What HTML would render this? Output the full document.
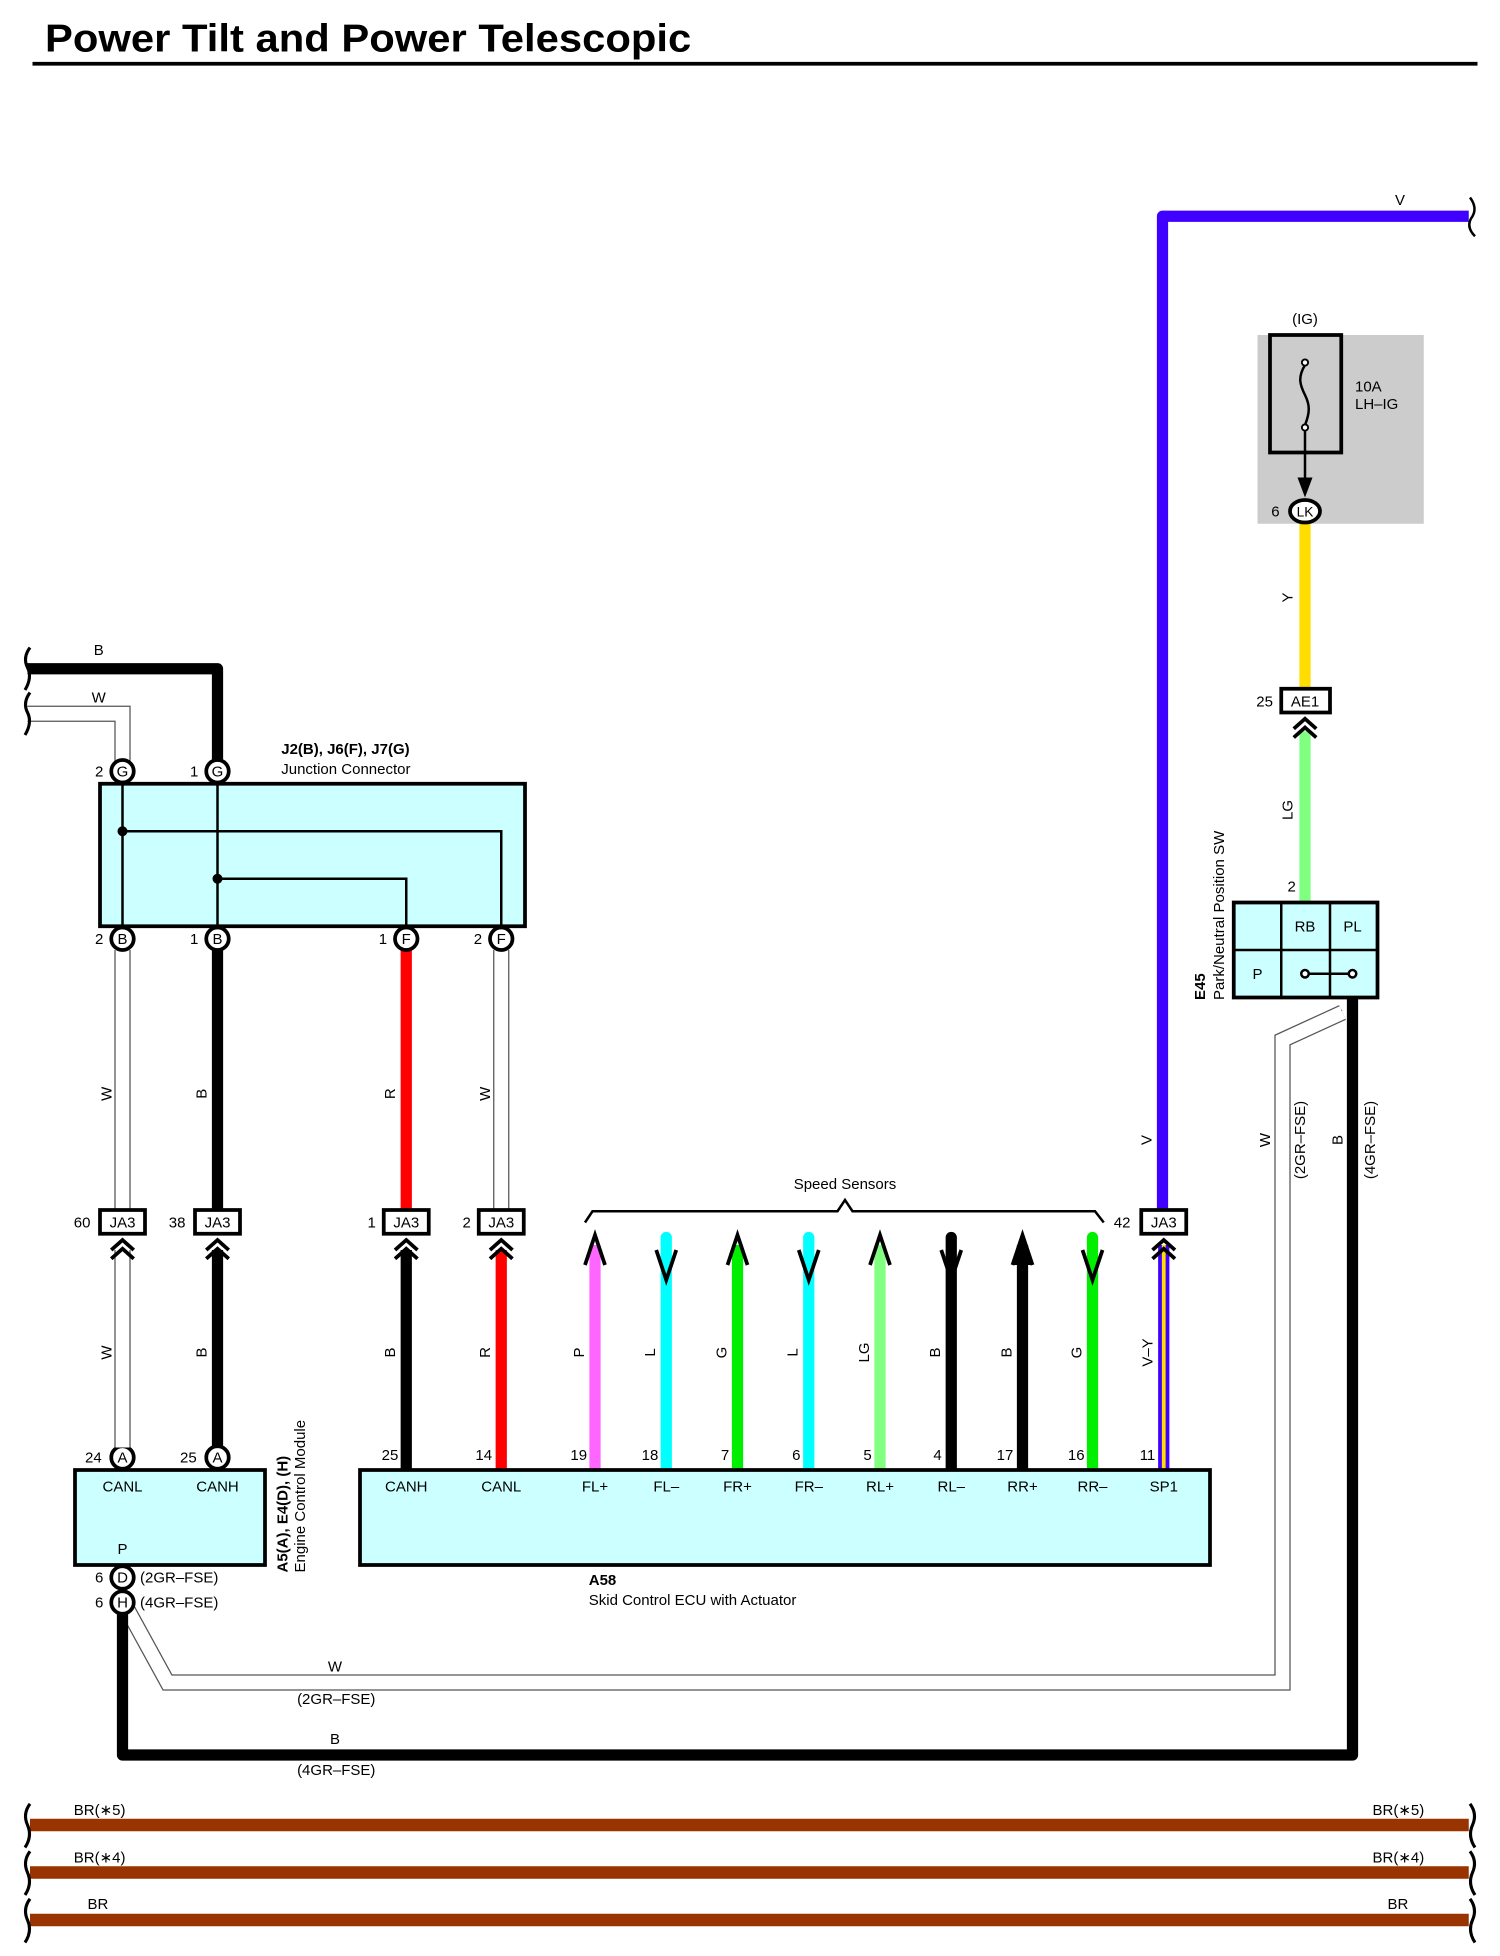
<!DOCTYPE html>
<html><head><meta charset="utf-8"><style>
html,body{margin:0;padding:0;background:#fff}
svg{display:block}
text{font-family:"Liberation Sans",sans-serif;font-size:12px;fill:#000}
.b{font-weight:bold}
.m{text-anchor:middle}
</style></head><body>
<svg width="1500" height="1956" viewBox="0 0 1200 1564.8" xmlns="http://www.w3.org/2000/svg">
<text x="36" y="41" class="b" style="font-size:31px" textLength="517" lengthAdjust="spacingAndGlyphs">Power Tilt and Power Telescopic</text>
<line x1="26" y1="51" x2="1182" y2="51" stroke="#000" stroke-width="3"/>

<!-- violet wire -->
<path d="M930,970 V173 H1175" fill="none" stroke="#3f00ff" stroke-width="9" stroke-linejoin="round"/>
<text x="1120" y="164" class="m">V</text>
<path d="M1176,158 q6,8 2,15 q-6,8 2,16" fill="none" stroke="#000" stroke-width="2"/>
<text transform="translate(921,912) rotate(-90)" class="m">V</text>

<!-- fuse -->
<rect x="1006" y="268" width="133" height="151" fill="#cccccc"/>
<text x="1044" y="259" class="m">(IG)</text>
<rect x="1016" y="268" width="57" height="94" fill="none" stroke="#000" stroke-width="3"/>
<path d="M1044,292 c-6,10 -4,16 0,24 c4,8 4,14 0,24" fill="none" stroke="#000" stroke-width="2"/>
<circle cx="1044" cy="290" r="2.5" fill="#fff" stroke="#000" stroke-width="1.5"/>
<circle cx="1044" cy="342" r="2.5" fill="#fff" stroke="#000" stroke-width="1.5"/>
<line x1="1044" y1="345" x2="1044" y2="392" stroke="#000" stroke-width="2"/>
<polygon points="1038,382 1050,382 1044,398" fill="#000"/>
<text x="1084" y="313">10A</text>
<text x="1084" y="327">LH–IG</text>
<line x1="1044" y1="418" x2="1044" y2="551" stroke="#ffdd00" stroke-width="9"/>
<ellipse cx="1044" cy="409" rx="12" ry="9" fill="#fff" stroke="#000" stroke-width="3"/>
<text x="1044" y="413" class="m" style="font-size:11px">LK</text>
<text x="1017" y="413">6</text>
<text transform="translate(1034,478) rotate(-90)" class="m">Y</text>

<!-- AE1 -->
<line x1="1044" y1="585" x2="1044" y2="722" stroke="#80ff80" stroke-width="9"/>
<rect x="1025" y="551" width="39" height="19" fill="#fff" stroke="#000" stroke-width="3"/>
<text x="1044" y="565" class="m">AE1</text>
<text x="1005" y="565">25</text>
<polyline points="1035,583 1044,575 1053,583" fill="none" stroke="#000" stroke-width="3"/>
<polyline points="1035,590 1044,582 1053,590" fill="none" stroke="#000" stroke-width="3"/>
<text transform="translate(1034,648) rotate(-90)" class="m">LG</text>
<text x="1030" y="713">2</text>

<!-- E45 -->
<rect x="987" y="722" width="115" height="76" fill="#ccffff" stroke="#000" stroke-width="3"/>
<line x1="1025" y1="722" x2="1025" y2="798" stroke="#000" stroke-width="2"/>
<line x1="1064" y1="722" x2="1064" y2="798" stroke="#000" stroke-width="2"/>
<line x1="987" y1="760" x2="1102" y2="760" stroke="#000" stroke-width="2"/>
<text x="1044" y="745" class="m">RB</text>
<text x="1082" y="745" class="m">PL</text>
<text x="1006" y="783" class="m">P</text>
<line x1="1044" y1="779" x2="1082" y2="779" stroke="#000" stroke-width="2"/>
<circle cx="1044" cy="779" r="3" fill="#fff" stroke="#000" stroke-width="2"/>
<circle cx="1082" cy="779" r="3" fill="#fff" stroke="#000" stroke-width="2"/>
<text transform="translate(964,800) rotate(-90)" class="b">E45</text>
<text transform="translate(979,800) rotate(-90)">Park/Neutral Position SW</text>
<text x="1068" y="815">6</text>

<!-- W wire (2GR) -->
<path d="M1074,810 L1026,832 V1346 H134 L100,1284" fill="none" stroke="#555" stroke-width="13" stroke-linejoin="miter"/>
<path d="M1074,810 L1026,832 V1346 H134 L100,1284" fill="none" stroke="#fff" stroke-width="11" stroke-linejoin="miter"/>
<!-- B wire (4GR) -->
<path d="M1082,798 V1404 H98 V1290" fill="none" stroke="#000" stroke-width="9" stroke-linejoin="round"/>
<text x="268" y="1337" class="m">W</text>
<text x="269" y="1363" class="m">(2GR–FSE)</text>
<text x="268" y="1395" class="m">B</text>
<text x="269" y="1420" class="m">(4GR–FSE)</text>
<text transform="translate(1016,912) rotate(-90)" class="m">W</text>
<text transform="translate(1044,912) rotate(-90)" class="m">(2GR–FSE)</text>
<text transform="translate(1074,912) rotate(-90)" class="m">B</text>
<text transform="translate(1100,912) rotate(-90)" class="m">(4GR–FSE)</text>

<!-- top-left wires -->
<path d="M22,535 H174 V610" fill="none" stroke="#000" stroke-width="9" stroke-linejoin="round"/>
<path d="M22,571 H98 V610" fill="none" stroke="#555" stroke-width="13"/>
<path d="M22,571 H98 V610" fill="none" stroke="#fff" stroke-width="11"/>
<text x="79" y="524" class="m">B</text>
<text x="79" y="562" class="m">W</text>
<path d="M24,518 q-6,8 -2,16 q4,8 -2,18" fill="none" stroke="#000" stroke-width="2.5"/>
<path d="M24,554 q-6,8 -2,16 q4,8 -2,18" fill="none" stroke="#000" stroke-width="2.5"/>

<!-- Junction connector -->
<rect x="80" y="627" width="340" height="114" fill="#ccffff" stroke="#000" stroke-width="3"/>
<line x1="98" y1="627" x2="98" y2="741" stroke="#000" stroke-width="2"/>
<line x1="174" y1="627" x2="174" y2="741" stroke="#000" stroke-width="2"/>
<polyline points="98,665 401,665 401,741" fill="none" stroke="#000" stroke-width="2"/>
<polyline points="174,703 325,703 325,741" fill="none" stroke="#000" stroke-width="2"/>
<circle cx="98" cy="665" r="4" fill="#000"/>
<circle cx="174" cy="703" r="4" fill="#000"/>
<text x="225" y="603" class="b">J2(B), J6(F), J7(G)</text>
<text x="225" y="619">Junction Connector</text>

<!-- middle verticals -->
<line x1="98" y1="760" x2="98" y2="968" stroke="#555" stroke-width="13"/>
<line x1="98" y1="760" x2="98" y2="968" stroke="#fff" stroke-width="11"/>
<line x1="174" y1="760" x2="174" y2="968" stroke="#000" stroke-width="9"/>
<line x1="325" y1="760" x2="325" y2="968" stroke="#ff0000" stroke-width="9"/>
<line x1="401" y1="760" x2="401" y2="968" stroke="#555" stroke-width="13"/>
<line x1="401" y1="760" x2="401" y2="968" stroke="#fff" stroke-width="11"/>
<text transform="translate(89,875) rotate(-90)" class="m">W</text>
<text transform="translate(165,875) rotate(-90)" class="m">B</text>
<text transform="translate(316,875) rotate(-90)" class="m">R</text>
<text transform="translate(392,875) rotate(-90)" class="m">W</text>

<!-- circle connectors -->
<g stroke="#000" stroke-width="3" fill="#fff">
<circle cx="98" cy="617" r="9"/><circle cx="174" cy="617" r="9"/>
<circle cx="98" cy="751" r="9"/><circle cx="174" cy="751" r="9"/>
<circle cx="325" cy="751" r="9"/><circle cx="401" cy="751" r="9"/>
<circle cx="98" cy="1166" r="9"/><circle cx="174" cy="1166" r="9"/>
<circle cx="98" cy="1262" r="9"/><circle cx="98" cy="1282" r="9"/>
</g>
<g style="font-size:11px" class="m">
<text x="98" y="621" class="m">G</text><text x="174" y="621" class="m">G</text>
<text x="98" y="755" class="m">B</text><text x="174" y="755" class="m">B</text>
<text x="325" y="755" class="m">F</text><text x="401" y="755" class="m">F</text>
<text x="98" y="1170" class="m">A</text><text x="174" y="1170" class="m">A</text>
<text x="98" y="1266" class="m">D</text><text x="98" y="1286" class="m">H</text>
</g>
<text x="76" y="621">2</text><text x="152" y="621">1</text>
<text x="76" y="755">2</text><text x="152" y="755">1</text>
<text x="303" y="755">1</text><text x="379" y="755">2</text>
<text x="68" y="1170">24</text><text x="144" y="1170">25</text>
<text x="76" y="1266">6</text><text x="76" y="1286">6</text>
<text x="112" y="1266">(2GR–FSE)</text>
<text x="112" y="1286">(4GR–FSE)</text>

<!-- lower wires -->
<line x1="98" y1="1000" x2="98" y2="1158" stroke="#555" stroke-width="13"/>
<line x1="98" y1="1000" x2="98" y2="1158" stroke="#fff" stroke-width="11"/>
<line x1="174" y1="1000" x2="174" y2="1158" stroke="#000" stroke-width="9"/>
<line x1="325" y1="1000" x2="325" y2="1176" stroke="#000" stroke-width="9"/>
<line x1="401" y1="1000" x2="401" y2="1176" stroke="#ff0000" stroke-width="9"/>
<line x1="476" y1="996" x2="476" y2="1176" stroke="#ff66ff" stroke-width="9"/>
<line x1="533" y1="990" x2="533" y2="1176" stroke="#00ffff" stroke-width="9" stroke-linecap="round"/>
<line x1="590" y1="996" x2="590" y2="1176" stroke="#00ee00" stroke-width="9"/>
<line x1="647" y1="990" x2="647" y2="1176" stroke="#00ffff" stroke-width="9" stroke-linecap="round"/>
<line x1="704" y1="996" x2="704" y2="1176" stroke="#80ff80" stroke-width="9"/>
<line x1="761" y1="990" x2="761" y2="1176" stroke="#000" stroke-width="9" stroke-linecap="round"/>
<line x1="818" y1="996" x2="818" y2="1176" stroke="#000" stroke-width="9"/>
<line x1="874" y1="990" x2="874" y2="1176" stroke="#00ee00" stroke-width="9" stroke-linecap="round"/>
<line x1="931" y1="996" x2="931" y2="1176" stroke="#3f00ff" stroke-width="9"/>
<line x1="931" y1="996" x2="931" y2="1176" stroke="#ffdd00" stroke-width="3"/>
<g fill="none" stroke="#000" stroke-width="3">
<polyline points="468,1012 476,988 484,1012"/>
<polyline points="525,1000 533,1024 541,1000"/>
<polyline points="582,1012 590,988 598,1012"/>
<polyline points="639,1000 647,1024 655,1000"/>
<polyline points="696,1012 704,988 712,1012"/>
<polyline points="753,1000 761,1024 769,1000"/>
<polyline points="866,1000 874,1024 882,1000"/>
</g>
<polygon points="810,1012 818,988 826,1012" fill="#000"/>
<polyline points="810,1012 818,988 826,1012" fill="none" stroke="#000" stroke-width="3"/>
<text transform="translate(89,1082) rotate(-90)" class="m">W</text>
<text transform="translate(165,1082) rotate(-90)" class="m">B</text>
<text transform="translate(316,1082) rotate(-90)" class="m">B</text>
<text transform="translate(392,1082) rotate(-90)" class="m">R</text>
<text transform="translate(467,1082) rotate(-90)" class="m">P</text>
<text transform="translate(524,1082) rotate(-90)" class="m">L</text>
<text transform="translate(581,1082) rotate(-90)" class="m">G</text>
<text transform="translate(638,1082) rotate(-90)" class="m">L</text>
<text transform="translate(695,1082) rotate(-90)" class="m">LG</text>
<text transform="translate(752,1082) rotate(-90)" class="m">B</text>
<text transform="translate(809,1082) rotate(-90)" class="m">B</text>
<text transform="translate(865,1082) rotate(-90)" class="m">G</text>
<text transform="translate(922,1082) rotate(-90)" class="m">V–Y</text>

<!-- JA3 connectors -->
<g fill="#fff" stroke="#000" stroke-width="3">
<rect x="80" y="968" width="36" height="19"/>
<rect x="156" y="968" width="36" height="19"/>
<rect x="307" y="968" width="36" height="19"/>
<rect x="383" y="968" width="36" height="19"/>
<rect x="913" y="968" width="36" height="19"/>
</g>
<text x="98" y="982" class="m">JA3</text>
<text x="174" y="982" class="m">JA3</text>
<text x="325" y="982" class="m">JA3</text>
<text x="401" y="982" class="m">JA3</text>
<text x="931" y="982" class="m">JA3</text>
<text x="59" y="982">60</text>
<text x="135" y="982">38</text>
<text x="294" y="982">1</text>
<text x="370" y="982">2</text>
<text x="891" y="982">42</text>
<g fill="none" stroke="#000" stroke-width="3">
<polyline points="89,1000 98,992 107,1000"/><polyline points="89,1007 98,999 107,1007"/>
<polyline points="165,1000 174,992 183,1000"/><polyline points="165,1007 174,999 183,1007"/>
<polyline points="316,1000 325,992 334,1000"/><polyline points="316,1007 325,999 334,1007"/>
<polyline points="392,1000 401,992 410,1000"/><polyline points="392,1007 401,999 410,1007"/>
<polyline points="922,1000 931,992 940,1000"/><polyline points="922,1007 931,999 940,1007"/>
</g>

<!-- speed sensors bracket -->
<polyline points="468,978 474,969 670,969 676,960 682,969 876,969 883,978" fill="none" stroke="#000" stroke-width="2"/>
<text x="676" y="951" class="m">Speed Sensors</text>

<!-- ECM -->
<rect x="60" y="1176" width="152" height="76" fill="#ccffff" stroke="#000" stroke-width="3"/>
<text x="98" y="1193" class="m">CANL</text>
<text x="174" y="1193" class="m">CANH</text>
<text x="98" y="1243" class="m">P</text>
<text transform="translate(230,1258) rotate(-90)" class="b">A5(A), E4(D), (H)</text>
<text transform="translate(244,1258) rotate(-90)">Engine Control Module</text>

<!-- A58 -->
<rect x="288" y="1176" width="680" height="76" fill="#ccffff" stroke="#000" stroke-width="3"/>
<g>
<text x="312" y="1168" class="m">25</text><text x="387" y="1168" class="m">14</text>
<text x="463" y="1168" class="m">19</text><text x="520" y="1168" class="m">18</text>
<text x="580" y="1168" class="m">7</text><text x="637" y="1168" class="m">6</text>
<text x="694" y="1168" class="m">5</text><text x="750" y="1168" class="m">4</text>
<text x="804" y="1168" class="m">17</text><text x="861" y="1168" class="m">16</text>
<text x="918" y="1168" class="m">11</text>
<text x="325" y="1193" class="m">CANH</text><text x="401" y="1193" class="m">CANL</text>
<text x="476" y="1193" class="m">FL+</text><text x="533" y="1193" class="m">FL–</text>
<text x="590" y="1193" class="m">FR+</text><text x="647" y="1193" class="m">FR–</text>
<text x="704" y="1193" class="m">RL+</text><text x="761" y="1193" class="m">RL–</text>
<text x="818" y="1193" class="m">RR+</text><text x="874" y="1193" class="m">RR–</text>
<text x="931" y="1193" class="m">SP1</text>
</g>
<text x="471" y="1268" class="b">A58</text>
<text x="471" y="1284">Skid Control ECU with Actuator</text>

<!-- brown wires -->
<g stroke="#993300" stroke-width="10">
<line x1="24" y1="1460" x2="1175" y2="1460"/>
<line x1="24" y1="1498" x2="1175" y2="1498"/>
<line x1="24" y1="1536" x2="1175" y2="1536"/>
</g>
<g fill="none" stroke="#000" stroke-width="2.5">
<path d="M24,1443 q-6,8 -2,17 q4,9 -2,18"/>
<path d="M24,1481 q-6,8 -2,17 q4,9 -2,18"/>
<path d="M24,1519 q-6,8 -2,17 q4,9 -2,18"/>
<path d="M1176,1443 q6,8 2,17 q-4,9 2,18"/>
<path d="M1176,1481 q6,8 2,17 q-4,9 2,18"/>
<path d="M1176,1519 q6,8 2,17 q-4,9 2,18"/>
</g>
<text x="59" y="1452">BR(∗5)</text>
<text x="1098" y="1452">BR(∗5)</text>
<text x="59" y="1490">BR(∗4)</text>
<text x="1098" y="1490">BR(∗4)</text>
<text x="70" y="1527">BR</text>
<text x="1110" y="1527">BR</text>
</svg>
</body></html>
